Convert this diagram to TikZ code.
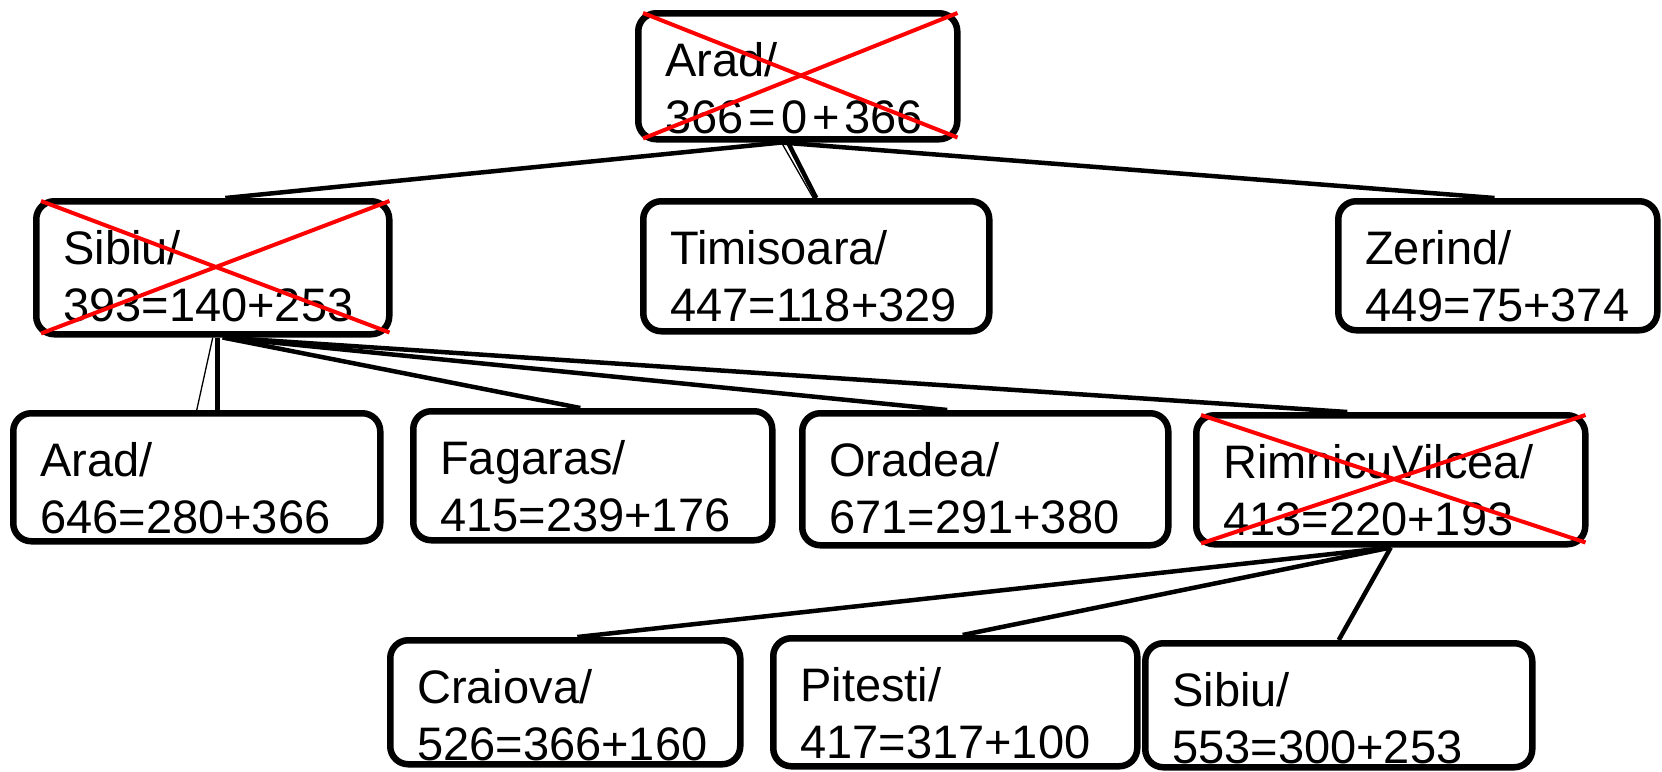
\documentclass[tikz,border=0pt]{standalone}
\usepackage{fontspec}
\setmainfont{Liberation Sans}
\usetikzlibrary{calc}
\tikzset{
  box/.style={draw, line width=6.5pt, rounded corners=18pt, fill=white, anchor=north west,
    inner xsep=27pt, inner ysep=0pt, align=left, font=\fontsize{47}{57}\selectfont},
  conn/.style={line width=4.5pt},
  thinconn/.style={line width=1.3pt},
  cross/.style={draw=red, line width=4pt}
}
\newcommand\twoline[3]{\rule{0pt}{63pt}#1\\#2\rule[-#3pt]{0pt}{#3pt}}
\newcommand\opgap{\kern5pt}
\begin{document}
\begin{tikzpicture}[x=1pt,y=-1pt]
\useasboundingbox (0,0) rectangle (1662,771);
% level 0
\node[box, minimum width=319pt, minimum height=126pt, text width=265pt] (arad) at (635,10) {\twoline{Arad/}{366\opgap=\opgap0\opgap+\opgap366}{6}};
% level 1
\node[box, minimum width=353pt, minimum height=133pt, text width=299pt] (sibiu) at (33,198) {\twoline{Sibiu/}{393=140+253}{13}};
\node[box, minimum width=346pt, minimum height=130pt, text width=292pt] (timi) at (640,198) {\twoline{Timisoara/}{447=118+329}{10}};
\node[box, minimum width=319pt, minimum height=129pt, text width=265pt] (zerind) at (1335,198) {\twoline{Zerind/}{449=75+374}{9}};
% level 2
\node[box, minimum width=367pt, minimum height=128pt, text width=313pt] (arad2) at (10,410) {\twoline{Arad/}{646=280+366}{8}};
\node[box, minimum width=359pt, minimum height=129pt, text width=305pt] (fag) at (410,408) {\twoline{Fagaras/}{415=239+176}{9}};
\node[box, minimum width=366pt, minimum height=132pt, text width=312pt] (ora) at (799,410) {\twoline{Oradea/}{671=291+380}{12}};
\node[box, minimum width=389pt, minimum height=129pt, text width=335pt] (rim) at (1193,412) {\twoline{RimnicuVilcea/}{413=220+193}{9}};
% level 3
\node[box, minimum width=350pt, minimum height=124pt, text width=296pt] (cra) at (387,637) {\twoline{Craiova/}{526=366+160}{4}};
\node[box, minimum width=364pt, minimum height=128pt, text width=310pt] (pit) at (770,635) {\twoline{Pitesti/}{417=317+100}{8}};
\node[box, minimum width=387pt, minimum height=124pt, text width=333pt] (sib2) at (1142,640) {\twoline{Sibiu/}{553=300+253}{4}};
% connectors from Arad
\coordinate (ab) at ($(arad.south west)!0.45!(arad.south east)$);
\coordinate (ab2) at ($(arad.south west)!0.47!(arad.south east)$);
\draw[conn] (ab) -- ($(sibiu.north west)!0.535!(sibiu.north east)$);
\draw[conn] (ab2) -- (timi.north);
\draw[thinconn] (ab) -- ($(timi.north)+(-3,0)$);
\draw[conn] (ab) -- ($(zerind.north west)!0.49!(zerind.north east)$);
% connectors from Sibiu
\coordinate (sb) at ($(sibiu.south)+(4.5,0)$);
\coordinate (sr) at ($(sibiu.south)+(10,0)$);
\draw[conn] (sb) -- (sb |- arad2.north);
\draw[thinconn] (sibiu.south) -- (arad2.north);
\draw[conn] (sr) -- ($(fag.north west)!0.466!(fag.north east)$);
\draw[conn] (sr) -- ($(ora.north west)!0.398!(ora.north east)$);
\draw[conn] (sr) -- ($(rim.north west)!0.39!(rim.north east)$);
% connectors from Rimnicu Vilcea
\draw[conn] (rim.south) -- ($(cra.north west)!0.534!(cra.north east)$);
\draw[conn] (rim.south) -- ($(pit.north west)!0.52!(pit.north east)$);
\draw[conn] (rim.south) -- (sib2.north);
% crosses
\foreach \n in {arad,sibiu,rim}{
  \draw[cross] ($(\n.north west)+(8,3)$) -- ($(\n.south east)+(-3,-5)$);
  \draw[cross] ($(\n.south west)+(8,-4)$) -- ($(\n.north east)+(-3,3)$);
}
\end{tikzpicture}
\end{document}
